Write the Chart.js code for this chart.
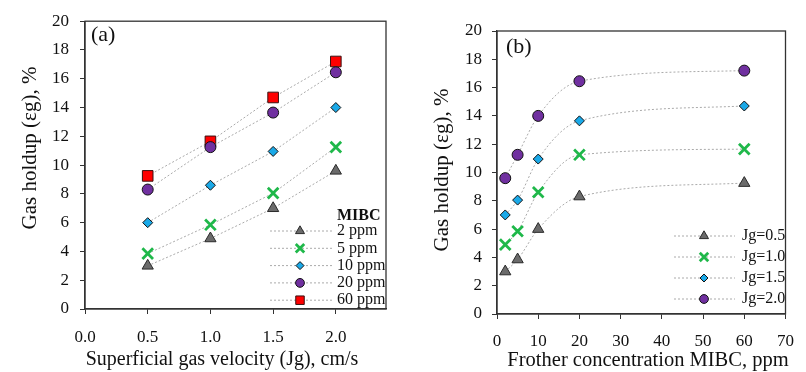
<!DOCTYPE html>
<html>
<head>
<meta charset="utf-8">
<script src="https://cdn.jsdelivr.net/npm/chart.js@4.4.0/dist/chart.umd.min.js"></script>
<style>
  html, body { margin: 0; padding: 0; background: #fff; }
  #wrap { position: relative; width: 806px; height: 372px; }
  .panel { position: absolute; top: 0; }
  #panelA { left: 0; }
  #panelB { left: 400px; }
</style>
</head>
<body>
<div id="wrap">
  <div class="panel" id="panelA"><canvas id="chartA" width="400" height="372"></canvas></div>
  <div class="panel" id="panelB"><canvas id="chartB" width="406" height="372"></canvas></div>
</div>
<script>
/* ---- data ---- */
const velocities = [0.5, 1.0, 1.5, 2.0];          // Jg, cm/s
const concentrations = [2, 5, 10, 20, 60];        // MIBC, ppm
const ppmLabels = ["2 ppm", "5 ppm", "10 ppm", "20 ppm", "60 ppm"];
const jgLabels = ["Jg=0.5", "Jg=1.0", "Jg=1.5", "Jg=2.0"];

// gas holdup (%) per MIBC dose, one value per Jg
const holdup2ppm = [3.0, 4.9, 7.0, 9.6];
const holdup5ppm = [3.85, 5.85, 8.05, 11.25];
const holdup10ppm = [6.0, 8.6, 10.95, 14.0];
const holdup20ppm = [8.3, 11.25, 13.65, 16.45];
const holdup60ppm = [9.25, 11.65, 14.7, 17.2];

const yTicksMax = 20;
const xMaxA = 2.4;
const xMaxB = 70;

/* ---- marker styles ---- */
const MARKERS = [
  { pointStyle: "triangle", radius: 6.5, fill: "#6b6b6b", stroke: "#2a2a2a", width: 1 },
  { pointStyle: "crossRot", radius: 7.5, fill: "#1fb84a", stroke: "#1fb84a", width: 2.8 },
  { pointStyle: "rectRot", radius: 5, fill: "#1aa9e8", stroke: "#111", width: 1 },
  { pointStyle: "circle", radius: 5.5, fill: "#7030a0", stroke: "#111", width: 1 },
  { pointStyle: "rect", radius: 7.5, fill: "#ff0000", stroke: "#3a1010", width: 1 },
];

const SERIF = '"Liberation Serif", "Times New Roman", serif';
Chart.defaults.font.family = SERIF;
Chart.defaults.color = "#111";

function makeDataset(label, points, marker, smooth) {
  return {
    label,
    data: points,
    showLine: true,
    borderColor: "#aaaaaa",
    borderWidth: 1,
    borderDash: [2, 2],
    tension: smooth ? 0.4 : 0,
    cubicInterpolationMode: smooth ? "monotone" : "default",
    pointStyle: marker.pointStyle,
    pointRadius: marker.radius,
    pointHoverRadius: marker.radius,
    pointBackgroundColor: marker.fill,
    pointBorderColor: marker.stroke,
    pointBorderWidth: marker.width,
  };
}

// frame box, panel tag, axis titles and the in-plot legend
const frameAndLegend = {
  id: "frameAndLegend",
  afterDatasetsDraw(chart, args, opts) {
    const { ctx, chartArea } = chart;
    ctx.save();
    ctx.strokeStyle = "#333";
    ctx.lineWidth = 1.3;
    ctx.strokeRect(chartArea.left, chartArea.top, chartArea.right - chartArea.left, chartArea.bottom - chartArea.top);

    ctx.fillStyle = "#111";
    ctx.font = `22px ${SERIF}`;
    ctx.textBaseline = "middle";
    ctx.textAlign = "left";
    ctx.fillText(opts.panel, opts.panelX, opts.panelY);

    // axis titles
    ctx.textAlign = "center";
    ctx.textBaseline = "alphabetic";
    ctx.font = `${opts.xTitle.size}px ${SERIF}`;
    ctx.fillText(opts.xTitle.text, opts.xTitle.x, opts.xTitle.y);
    ctx.save();
    ctx.translate(opts.yTitle.x, opts.yTitle.y);
    ctx.rotate(-Math.PI / 2);
    ctx.font = `${opts.yTitle.size}px ${SERIF}`;
    ctx.fillText(opts.yTitle.text, 0, 0);
    ctx.restore();

    ctx.textAlign = "left";
    ctx.textBaseline = "middle";
    if (opts.heading) {
      ctx.font = `bold 16px ${SERIF}`;
      ctx.fillText(opts.heading, opts.textX, opts.headingY);
    }
    ctx.font = `16px ${SERIF}`;
    chart.data.datasets.forEach((ds, i) => {
      const y = opts.firstY + i * opts.rowGap;
      ctx.save();
      ctx.strokeStyle = "#aaaaaa";
      ctx.lineWidth = 1;
      ctx.setLineDash([2, 2]);
      ctx.beginPath();
      ctx.moveTo(opts.lineX0, y);
      ctx.lineTo(opts.lineX1, y);
      ctx.stroke();
      ctx.restore();

      ctx.save();
      ctx.fillStyle = ds.pointBackgroundColor;
      ctx.strokeStyle = ds.pointBorderColor;
      ctx.lineWidth = ds.pointBorderWidth;
      Chart.helpers.drawPoint(ctx, {
        pointStyle: ds.pointStyle,
        radius: ds.pointRadius * 0.8,
        borderWidth: ds.pointBorderWidth,
        rotation: 0,
      }, opts.markerX, y);
      ctx.restore();

      ctx.fillStyle = "#111";
      ctx.fillText(ds.label, opts.textX, y);
    });
    ctx.restore();
  },
};

function axes(xMax, xStep, xFmt, yWidth, xHeight, xPad, yPad) {
  return {
    x: {
      type: "linear",
      min: 0,
      max: xMax,
      afterFit(scale) { scale.height = xHeight; },
      border: { color: "#333", width: 1.3 },
      grid: { drawOnChartArea: false, drawTicks: true, tickLength: 5, color: "#333" },
      ticks: { stepSize: xStep, includeBounds: false, padding: xPad, font: { size: 17 }, callback: xFmt, maxRotation: 0 },
    },
    y: {
      min: 0,
      max: yTicksMax,
      afterFit(scale) { scale.width = yWidth; },
      border: { color: "#333", width: 1.3 },
      grid: { drawOnChartArea: false, drawTicks: true, tickLength: 5, color: "#333" },
      ticks: { stepSize: 2, padding: yPad, font: { size: 17 } },
    },
  };
}

/* ---- (a) holdup vs Jg, one line per dose ---- */
const doseSeries = [holdup2ppm, holdup5ppm, holdup10ppm, holdup20ppm, holdup60ppm];
new Chart(document.getElementById("chartA"), {
  type: "scatter",
  data: {
    datasets: doseSeries.map((vals, i) =>
      makeDataset(ppmLabels[i], velocities.map((v, j) => ({ x: v, y: vals[j] })), MARKERS[i], false)),
  },
  options: {
    responsive: false,
    animation: false,
    layout: { padding: { top: 20, right: 14, left: 0, bottom: 0 } },
    plugins: {
      legend: { display: false },
      tooltip: { enabled: false },
      frameAndLegend: {
        panel: "(a)", panelX: 91, panelY: 35,
        xTitle: { text: "Superficial gas velocity (Jg), cm/s", size: 20, x: 222, y: 365 },
        yTitle: { text: "Gas holdup (εg), %", size: 21, x: 36, y: 148 },
        heading: "MIBC", headingY: 216,
        firstY: 231, rowGap: 17.3,
        lineX0: 270, lineX1: 332, markerX: 300, textX: 337,
      },
    },
    scales: axes(xMaxA, 0.5, (v) => v.toFixed(1), 85, 63, 13, 11),
  },
  plugins: [frameAndLegend],
});

/* ---- (b) holdup vs MIBC, one line per Jg ---- */
const jgMarkers = [MARKERS[0], MARKERS[1], MARKERS[2], MARKERS[3]];
new Chart(document.getElementById("chartB"), {
  type: "scatter",
  data: {
    datasets: jgLabels.map((label, j) =>
      makeDataset(label, concentrations.map((c, i) => ({ x: c, y: doseSeries[i][j] })), jgMarkers[j], true)),
  },
  options: {
    responsive: false,
    animation: false,
    layout: { padding: { top: 31, right: 9, left: 0, bottom: 0 } },
    plugins: {
      legend: { display: false },
      tooltip: { enabled: false },
      frameAndLegend: {
        panel: "(b)", panelX: 106, panelY: 47,
        xTitle: { text: "Frother concentration MIBC, ppm", size: 20.5, x: 248, y: 366 },
        yTitle: { text: "Gas holdup (εg), %", size: 21, x: 48, y: 170 },
        heading: null,
        firstY: 236, rowGap: 21,
        lineX0: 274, lineX1: 335, markerX: 304, textX: 342,
      },
    },
    scales: axes(xMaxB, 10, (v) => v, 97, 58, 12, 10),
  },
  plugins: [frameAndLegend],
});
</script>
</body>
</html>
